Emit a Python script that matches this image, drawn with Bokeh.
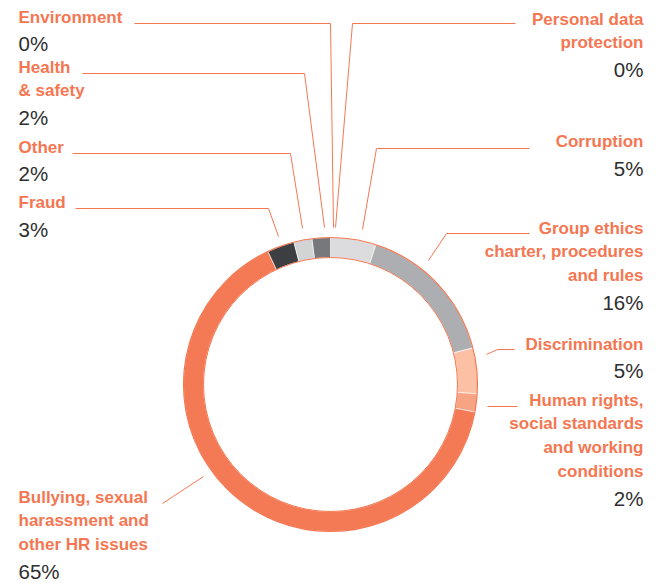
import math
from bokeh.plotting import figure
from bokeh.models import Range1d, ColumnDataSource
from bokeh.core.properties import value
from bokeh.embed import file_html
from bokeh.resources import INLINE

# ---- data (clockwise from 12 o'clock) ----
categories = ["Personal data protection", "Corruption",
              "Group ethics charter, procedures and rules", "Discrimination",
              "Human rights, social standards and working conditions",
              "Bullying, sexual harassment and other HR issues",
              "Fraud", "Other", "Health & safety", "Environment"]
values = [0, 5, 16, 5, 2, 65, 3, 2, 2, 0]
value_labels = ["0%", "5%", "16%", "5%", "2%", "65%", "3%", "2%", "2%", "0%"]
colors = ["#d9d9db", "#dcdcde", "#adaeb1", "#fcc0a5", "#f7a384",
          "#f47a55", "#3d3e41", "#d2d3d5", "#77787b", "#77787b"]

# ---- layout ----
ORANGE = "#f47752"
W, H = 659, 583
def Y(py):
    return H - py

cx, cy = 330, Y(384)
R_OUT, R_IN = 147, 127

label_lines = [
    ["Personal data", "protection"],
    ["Corruption"],
    ["Group ethics", "charter, procedures", "and rules"],
    ["Discrimination"],
    ["Human rights,", "social standards", "and working", "conditions"],
    ["Bullying, sexual", "harassment and", "other HR issues"],
    ["Fraud"],
    ["Other"],
    ["Health", "& safety"],
    ["Environment"],
]
# (x anchor, first line cap-centre y, align)
label_pos = [
    (643, 19, "right"), (643, 141.5, "right"), (643, 228, "right"),
    (643, 344, "right"), (643, 400, "right"), (18, 497, "left"),
    (18, 202.5, "left"), (18, 147, "left"), (18, 67, "left"), (18, 17, "left"),
]
leaders = [
    [(515, 23), (352, 23), (335, 227)],
    [(529, 148), (376, 148), (362, 229)],
    [(529, 233), (446, 233), (428, 260)],
    [(514, 349), (497, 349), (486, 354)],
    [(517, 406), (487, 406)],
    [(162, 503), (203, 476)],
    [(75, 208), (268, 208), (278, 236)],
    [(72, 153), (290, 153), (302, 228)],
    [(82, 73), (304, 73), (324, 227)],
    [(134, 23), (330, 23), (333, 227)],
]

p = figure(width=W, height=H, output_backend="svg", toolbar_location=None,
           x_range=Range1d(0, W), y_range=Range1d(0, H),
           min_border=0, outline_line_color=None)
p.axis.visible = False
p.grid.visible = False
p.background_fill_color = "white"

# wedges
total = float(sum(values))
starts, ends, cols = [], [], []
cum = 0.0
for v, c in zip(values, colors):
    f0 = cum / total
    cum += v
    f1 = cum / total
    if v > 0:
        starts.append(math.pi / 2 - 2 * math.pi * f1)
        ends.append(math.pi / 2 - 2 * math.pi * f0)
        cols.append(c)
src = ColumnDataSource(dict(s=starts, e=ends, c=cols))
p.annular_wedge(x=cx, y=cy, inner_radius=R_IN, outer_radius=R_OUT,
                start_angle="s", end_angle="e", fill_color="c",
                line_color="white", line_width=0.6, source=src)
p.arc(x=cx, y=cy, radius=R_OUT, start_angle=0, end_angle=2 * math.pi,
      line_color=ORANGE, line_width=1.2)
p.arc(x=cx, y=cy, radius=R_IN, start_angle=0, end_angle=2 * math.pi,
      line_color=ORANGE, line_width=1.0)

# leader lines
p.multi_line(xs=[[pt[0] for pt in L] for L in leaders],
             ys=[[Y(pt[1]) for pt in L] for L in leaders],
             line_color=ORANGE, line_width=1)

# labels
LBL = 17
PCT = 20.5
LBL_SHIFT = -6.5
PCT_SHIFT = -7.5
tx, ty, tt, ta = [], [], [], []
px, py_, pt_, pa = [], [], [], []
for lines, (x, y0, al), vl in zip(label_lines, label_pos, value_labels):
    y = y0
    for ln in lines:
        tx.append(x); ty.append(Y(y + 0.716 * LBL / 2 + LBL_SHIFT)); tt.append(ln); ta.append(al)
        y += 23.8
    y_pct = y - 23.8 + 26.3
    px.append(x); py_.append(Y(y_pct + 0.716 * PCT / 2 + PCT_SHIFT)); pt_.append(vl); pa.append(al)

p.text(x="x", y="y", text="t", text_align="a",
       source=ColumnDataSource(dict(x=tx, y=ty, t=tt, a=ta)),
       text_font=value("Liberation Sans"), text_font_style="bold",
       text_font_size=f"{LBL}px", text_color=ORANGE, text_baseline="alphabetic")
p.text(x="x", y="y", text="t", text_align="a",
       source=ColumnDataSource(dict(x=px, y=py_, t=pt_, a=pa)),
       text_font=value("Liberation Sans"),
       text_font_size=f"{PCT}px", text_color="#2e2e2e", text_baseline="alphabetic")

open("out.html", "w").write(file_html(p, INLINE))
